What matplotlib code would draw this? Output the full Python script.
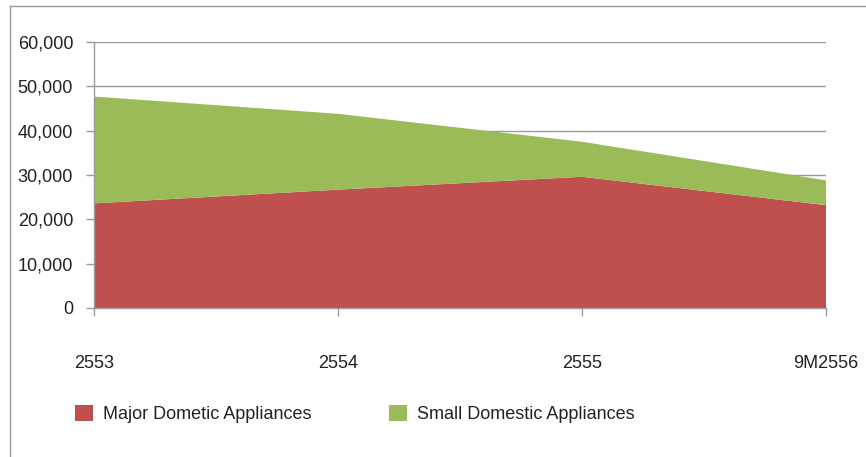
import matplotlib
matplotlib.use("Agg")
import matplotlib.pyplot as plt
from matplotlib.lines import Line2D
from matplotlib.patches import Patch

plt.rcParams['font.family'] = ['Liberation Sans', 'DejaVu Sans']

categories = ["2553", "2554", "2555", "9M2556"]
major = [23600, 26700, 29600, 23200]
small = [24100, 17100, 7900, 5600]
yticks = [0, 10000, 20000, 30000, 40000, 50000, 60000]

red = "#C0504D"
green = "#9BBB59"
grey = "#9A9A9A"

W, H = 866, 457
fig = plt.figure(figsize=(W / 100, H / 100), dpi=100)
ax = fig.add_axes([94 / W, (H - 308) / H, (826 - 94) / W, (308 - 42) / H])

x = list(range(len(categories)))
ax.stackplot(x, major, small, colors=[red, green], linewidth=0, zorder=3)

ax.set_xlim(0, len(categories) - 1)
ax.set_ylim(0, 60000)
ax.set_yticks(yticks)
ax.set_yticklabels([f"{v:,}" for v in yticks])
ax.set_xticks(x)
ax.set_xticklabels(categories)

ax.grid(axis='y', color=grey, linewidth=1, zorder=1)
ax.set_axisbelow(True)
for s in ['top', 'right']:
    ax.spines[s].set_visible(False)
for s in ['left', 'bottom']:
    ax.spines[s].set_color(grey)
    ax.spines[s].set_linewidth(1)
    ax.spines[s].set_zorder(4)

ax.tick_params(axis='y', length=6, width=1, color=grey, pad=9, labelsize=13, labelcolor="#222222")
ax.tick_params(axis='x', length=6, width=1, color=grey, pad=28, labelsize=13, labelcolor="#222222")

# outer frame lines (left and top)
fig.add_artist(Line2D([9.5 / W, 9.5 / W], [0, (H - 6) / H], transform=fig.transFigure, color=grey, linewidth=1))
fig.add_artist(Line2D([9.5 / W, 1], [(H - 6) / H, (H - 6) / H], transform=fig.transFigure, color=grey, linewidth=1))

handles = [Patch(facecolor=red, edgecolor='none'), Patch(facecolor=green, edgecolor='none')]
labels = ["Major Dometic Appliances", "Small Domestic Appliances"]
fig.legend(handles, labels, loc='center left', bbox_to_anchor=(59 / W, (H - 414) / H),
           ncol=2, frameon=False, fontsize=13, handlelength=1.0, handleheight=1.0,
           handletextpad=0.55, columnspacing=4.3, labelcolor="#222222")

fig.savefig("out.png", dpi=100)
